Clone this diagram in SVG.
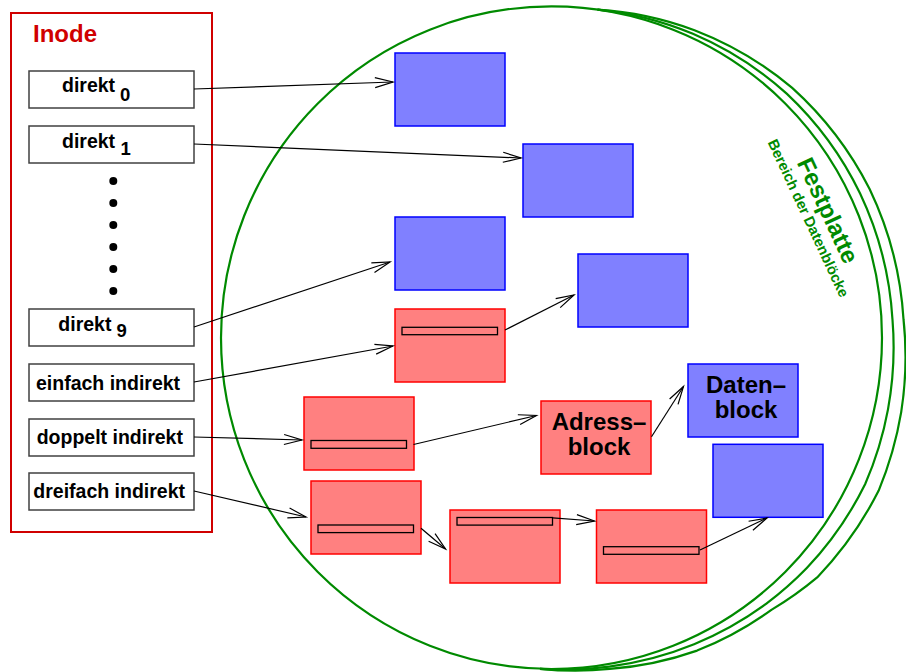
<svg xmlns="http://www.w3.org/2000/svg" width="906" height="672" viewBox="0 0 906 672">
<style>
text{font-family:"Liberation Sans",Arial,Helvetica,sans-serif;font-weight:bold;fill:#000}
.ft{font-size:19.5px}
.sub{font-size:18.5px}
.big{font-size:24px}
.field{fill:#fff;stroke:#404040;stroke-width:1.5}
.blue{fill:#8080ff;stroke:#0000ff;stroke-width:1.5}
.red{fill:#ff8080;stroke:#ff0000;stroke-width:1.5}
.bar{fill:#ff8080;stroke:#000;stroke-width:1.3}
.disk{fill:none;stroke:#008a00;stroke-width:2.2}
.conn line{stroke:#000;stroke-width:1.2;fill:none;marker-end:url(#ah)}
.green{fill:#008a00}
</style>
<defs>
<marker id="ah" markerUnits="userSpaceOnUse" viewBox="-20 -7 22 14" refX="0" refY="0" markerWidth="22" markerHeight="14" orient="auto" overflow="visible">
<path d="M-18,-5 L0,0 L-18,5" fill="none" stroke="#000" stroke-width="1.2"/>
</marker>
</defs>
<rect width="906" height="672" fill="#fff"/>

<g id="festplatte">
<ellipse class="disk" cx="551.5" cy="337.7" rx="330.5" ry="331.3"/>
<path class="disk" d="M597.5 9.6 A333 333 0 0 1 692.9 33.8 A337 337 0 0 1 786.7 93.6 A340 340 0 0 1 860.1 193.5 A342 342 0 0 1 892.5 319.8 A344 344 0 0 1 888 409.4 A345 345 0 0 1 865.1 484.3 A345 345 0 0 1 806.8 568.1 A343 343 0 0 1 766.4 603.7 A340 340 0 0 1 694.1 644.3 A336 336 0 0 1 609.3 666.6 A333 333 0 0 1 540 668.8"/>
<path class="disk" d="M597.5 9.6 A335 335 0 0 1 694.5 30.2 A342 342 0 0 1 792.2 87.9 A349 349 0 0 1 869.6 189 A352 352 0 0 1 903.5 319.2 A356 356 0 0 1 901.2 412.2 A360 360 0 0 1 878.7 490.6 A360 360 0 0 1 817.2 577.4 A352 352 0 0 1 771.4 609.9 A346 346 0 0 1 697.1 650.6 A338 338 0 0 1 609.7 668.9 A333 333 0 0 1 540 668.8"/>
<text class="green" font-size="24" text-anchor="middle" transform="translate(827.8,210.5) rotate(65)" y="8">Festplatte</text>
<text class="green" font-size="14.7" text-anchor="middle" transform="translate(808.3,218.2) rotate(65)" y="5">Bereich der Datenblöcke</text>
</g>

<g id="inode">
<rect x="11" y="13" width="201" height="519" fill="none" stroke="#d00000" stroke-width="2"/>
<text class="big" x="33" y="42" style="fill:#d00000">Inode</text>
</g>
<g id="direkt0"><rect class="field" x="29" y="71" width="165" height="37"/><text class="ft" x="62" y="92">direkt</text><text class="sub" x="120" y="100.5">0</text></g>
<g id="direkt1"><rect class="field" x="29" y="126" width="165" height="37"/><text class="ft" x="62" y="147.7">direkt</text><text class="sub" x="120.5" y="155">1</text></g>
<g id="dots">
<circle cx="113.3" cy="181" r="4"/><circle cx="113.3" cy="203" r="4"/><circle cx="113.3" cy="225" r="4"/><circle cx="113.3" cy="247" r="4"/><circle cx="113.3" cy="269" r="4"/><circle cx="113.3" cy="291" r="4"/>
</g>
<g id="direkt9"><rect class="field" x="29" y="309" width="165" height="37"/><text class="ft" x="58.3" y="330.7">direkt</text><text class="sub" x="116.5" y="336.5">9</text></g>
<g id="einfach"><rect class="field" x="29" y="364" width="165" height="37"/><text class="ft" x="36" y="390">einfach indirekt</text></g>
<g id="doppelt"><rect class="field" x="29" y="419" width="165" height="37"/><text class="ft" x="36.7" y="443.5">doppelt indirekt</text></g>
<g id="dreifach"><rect class="field" x="29" y="473" width="165" height="37"/><text class="ft" x="33.3" y="498.3">dreifach indirekt</text></g>

<g id="blue1"><rect class="blue" x="395" y="53" width="110" height="73"/></g>
<g id="blue2"><rect class="blue" x="523" y="144" width="110" height="73"/></g>
<g id="blue3"><rect class="blue" x="395" y="217" width="110" height="73"/></g>
<g id="blue4"><rect class="blue" x="578" y="254" width="110" height="73"/></g>
<g id="red1"><rect class="red" x="395" y="309" width="110" height="73"/><rect class="bar" x="402" y="327.3" width="95.5" height="7.4"/></g>
<g id="red2"><rect class="red" x="304" y="397" width="110" height="73"/><rect class="bar" x="311" y="440.5" width="95.5" height="7.8"/></g>
<g id="adressblock"><rect class="red" x="541" y="401" width="110" height="73"/><text class="big" x="599" y="430" text-anchor="middle">Adress–</text><text class="big" x="599" y="455" text-anchor="middle">block</text></g>
<g id="datenblock"><rect class="blue" x="688" y="364" width="110" height="73"/><text class="big" x="746" y="392.5" text-anchor="middle">Daten–</text><text class="big" x="746" y="418.3" text-anchor="middle">block</text></g>
<g id="blue5"><rect class="blue" x="713" y="444.3" width="110" height="73"/></g>
<g id="red3"><rect class="red" x="311" y="481" width="110" height="73"/><rect class="bar" x="318" y="525" width="95.5" height="7.6"/></g>
<g id="red4"><rect class="red" x="450" y="510" width="110" height="73"/><rect class="bar" x="457" y="517.5" width="95.5" height="7.6"/></g>
<g id="red5"><rect class="red" x="596.5" y="510" width="110" height="73"/><rect class="bar" x="603.5" y="546.7" width="95.5" height="7.6"/></g>

<g id="connectors" class="conn">
<line x1="194" y1="89" x2="393" y2="82"/>
<line x1="194" y1="144" x2="521" y2="158"/>
<line x1="194" y1="327" x2="390" y2="262"/>
<line x1="194" y1="382" x2="393" y2="346"/>
<line x1="505" y1="330" x2="574" y2="295"/>
<line x1="194" y1="437" x2="302" y2="440"/>
<line x1="413.5" y1="444.5" x2="536.5" y2="415.5"/>
<line x1="651.5" y1="436.7" x2="683.5" y2="386.5"/>
<line x1="194" y1="491" x2="306" y2="517"/>
<line x1="421" y1="528.3" x2="445.6" y2="549"/>
<line x1="552.7" y1="517.8" x2="594.5" y2="521"/>
<line x1="700" y1="550" x2="767" y2="518"/>
</g>
</svg>
